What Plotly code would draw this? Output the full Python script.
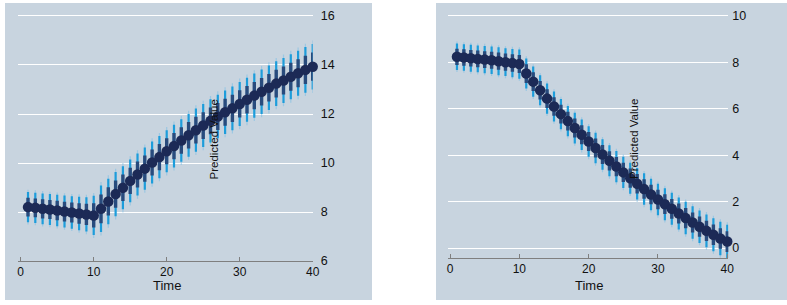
import plotly.graph_objects as go

time = list(range(1, 41))

left_pred = [8.20, 8.17, 8.13, 8.10, 8.06, 8.02, 7.98, 7.94, 7.90, 7.86,
             8.13, 8.43, 8.73, 8.99, 9.27, 9.53, 9.77, 10.02, 10.24, 10.48,
             10.69, 10.92, 11.13, 11.34, 11.53, 11.72, 11.90, 12.07, 12.23, 12.41,
             12.58, 12.75, 12.91, 13.07, 13.24, 13.37, 13.52, 13.66, 13.80, 13.93]
left_hw = [0.62, 0.62, 0.63, 0.63, 0.64, 0.65, 0.66, 0.68, 0.70, 0.80,
           0.95, 0.93, 0.90, 0.88, 0.87, 0.86, 0.86, 0.86, 0.86, 0.86,
           0.87, 0.87, 0.87, 0.88, 0.88, 0.88, 0.89, 0.89, 0.89, 0.90,
           0.90, 0.90, 0.91, 0.91, 0.91, 0.92, 0.92, 0.92, 0.93, 0.93]

right_pred = [8.24, 8.21, 8.18, 8.15, 8.12, 8.09, 8.05, 8.01, 7.97, 7.93,
              7.52, 7.17, 6.80, 6.44, 6.10, 5.77, 5.47, 5.17, 4.88, 4.59,
              4.31, 4.03, 3.76, 3.51, 3.26, 3.01, 2.77, 2.54, 2.31, 2.09,
              1.89, 1.69, 1.49, 1.29, 1.10, 0.92, 0.74, 0.57, 0.41, 0.28]
right_hw = [0.57, 0.57, 0.58, 0.58, 0.59, 0.59, 0.60, 0.60, 0.61, 0.63,
            0.65, 0.65, 0.65, 0.65, 0.65, 0.65, 0.65, 0.66, 0.66, 0.66,
            0.66, 0.66, 0.67, 0.67, 0.67, 0.67, 0.68, 0.68, 0.68, 0.68,
            0.69, 0.69, 0.69, 0.70, 0.70, 0.70, 0.71, 0.71, 0.72, 0.72]

# interval levels relative to the middle (cyan) interval
level_scale = {"outer": 1.15, "middle": 1.0, "inner": 0.62}

x_ticks = [0, 10, 20, 30, 40]
left_y_ticks = [6, 8, 10, 12, 14, 16]
right_y_ticks = [0, 2, 4, 6, 8, 10]

PANEL = "#c8d4df"
NAVY = "#1c2a56"
DARKBAR = "#284b7d"
CYAN = "#1d9ddb"
FAINT = "rgba(120,190,230,0.55)"
FONT = "Liberation Sans, Arial, sans-serif"


def segs(t, m, hw, k):
    xs, ys = [], []
    for ti, mi, hi in zip(t, m, hw):
        xs += [ti, ti, None]
        ys += [mi - k * hi, mi + k * hi, None]
    return xs, ys


fig = go.Figure()

for pred, hw, xa, ya in [(left_pred, left_hw, "x", "y"), (right_pred, right_hw, "x2", "y2")]:
    for key, color, width in [("outer", FAINT, 1.2), ("middle", CYAN, 2.2), ("inner", DARKBAR, 3.4)]:
        xs, ys = segs(time, pred, hw, level_scale[key])
        fig.add_trace(go.Scatter(x=xs, y=ys, mode="lines", xaxis=xa, yaxis=ya,
                                 line=dict(color=color, width=width),
                                 cliponaxis=False, showlegend=False, hoverinfo="skip"))
    fig.add_trace(go.Scatter(x=time, y=pred, mode="markers", xaxis=xa, yaxis=ya,
                             marker=dict(color=NAVY, size=10.5, line=dict(width=0)),
                             cliponaxis=False, showlegend=False))

W, H = 787, 305

def px_x(a, b):
    return [a / W, b / W]

def px_y(top, bottom):
    return [(H - bottom) / H, (H - top) / H]

xaxis_common = dict(tickvals=x_ticks, ticks="inside", ticklen=4, tickcolor="#7f7f7f",
                    showline=True, linecolor="#7f7f7f", linewidth=1, showgrid=False,
                    zeroline=False, tickfont=dict(family=FONT, size=12, color="#111"),
                    ticklabelstandoff=0, automargin=False, fixedrange=True)
yaxis_common = dict(side="right", ticks="", showgrid=True, gridcolor="white", gridwidth=1.3,
                    zeroline=False, showline=False, automargin=False, fixedrange=True,
                    tickfont=dict(family=FONT, size=12.5, color="#111"))

# left: 24.5 px per unit (16 at y=16, 6 at y=261); right: 23.2 px per unit (10 at y=16, 0 at y=248)
fig.update_layout(
    width=W, height=H, autosize=False,
    margin=dict(l=0, r=0, t=0, b=0, pad=0, autoexpand=False),
    paper_bgcolor="white",
    plot_bgcolor="rgba(0,0,0,0)",
    xaxis=dict(domain=px_x(18.3, 312.7), range=[-0.33, 40.0], anchor="y", **xaxis_common),
    yaxis=dict(domain=px_y(12.0, 261.0), range=[6.0, 16.163], tickvals=left_y_ticks,
               anchor="x", ticklabelstandoff=7, **yaxis_common),
    xaxis2=dict(domain=px_x(448.3, 728.3), range=[-0.25, 40.15], anchor="y2", **xaxis_common),
    yaxis2=dict(domain=px_y(12.0, 258.0), range=[-0.43, 10.172], tickvals=right_y_ticks,
                anchor="x2", ticklabelstandoff=3, **yaxis_common),
    shapes=[
        dict(type="rect", xref="paper", yref="paper", x0=5 / W, x1=372 / W,
             y0=(H - 300) / H, y1=(H - 3) / H, fillcolor=PANEL, line=dict(width=0), layer="below"),
        dict(type="rect", xref="paper", yref="paper", x0=436 / W, x1=1.0,
             y0=(H - 300) / H, y1=(H - 3) / H, fillcolor=PANEL, line=dict(width=0), layer="below"),
    ],
    annotations=[
        dict(text="Predicted Value", xref="paper", yref="paper", x=213.5 / W, y=(H - 139) / H,
             textangle=-90, showarrow=False, font=dict(family=FONT, size=11.5, color="#111"),
             xanchor="center", yanchor="middle", borderpad=0),
        dict(text="Predicted Value", xref="paper", yref="paper", x=634 / W, y=(H - 139) / H,
             textangle=-90, showarrow=False, font=dict(family=FONT, size=11.5, color="#111"),
             xanchor="center", yanchor="middle", borderpad=0),
        dict(text="Time", xref="paper", yref="paper", x=167 / W, y=(H - 285) / H,
             showarrow=False, font=dict(family=FONT, size=13, color="#111"),
             xanchor="center", yanchor="middle", borderpad=0),
        dict(text="Time", xref="paper", yref="paper", x=589 / W, y=(H - 285) / H,
             showarrow=False, font=dict(family=FONT, size=13, color="#111"),
             xanchor="center", yanchor="middle", borderpad=0),
    ],
)

fig.write_html("out.html", config={"displayModeBar": False},
               post_script="document.body.style.margin='0';document.body.style.overflow='hidden';")
